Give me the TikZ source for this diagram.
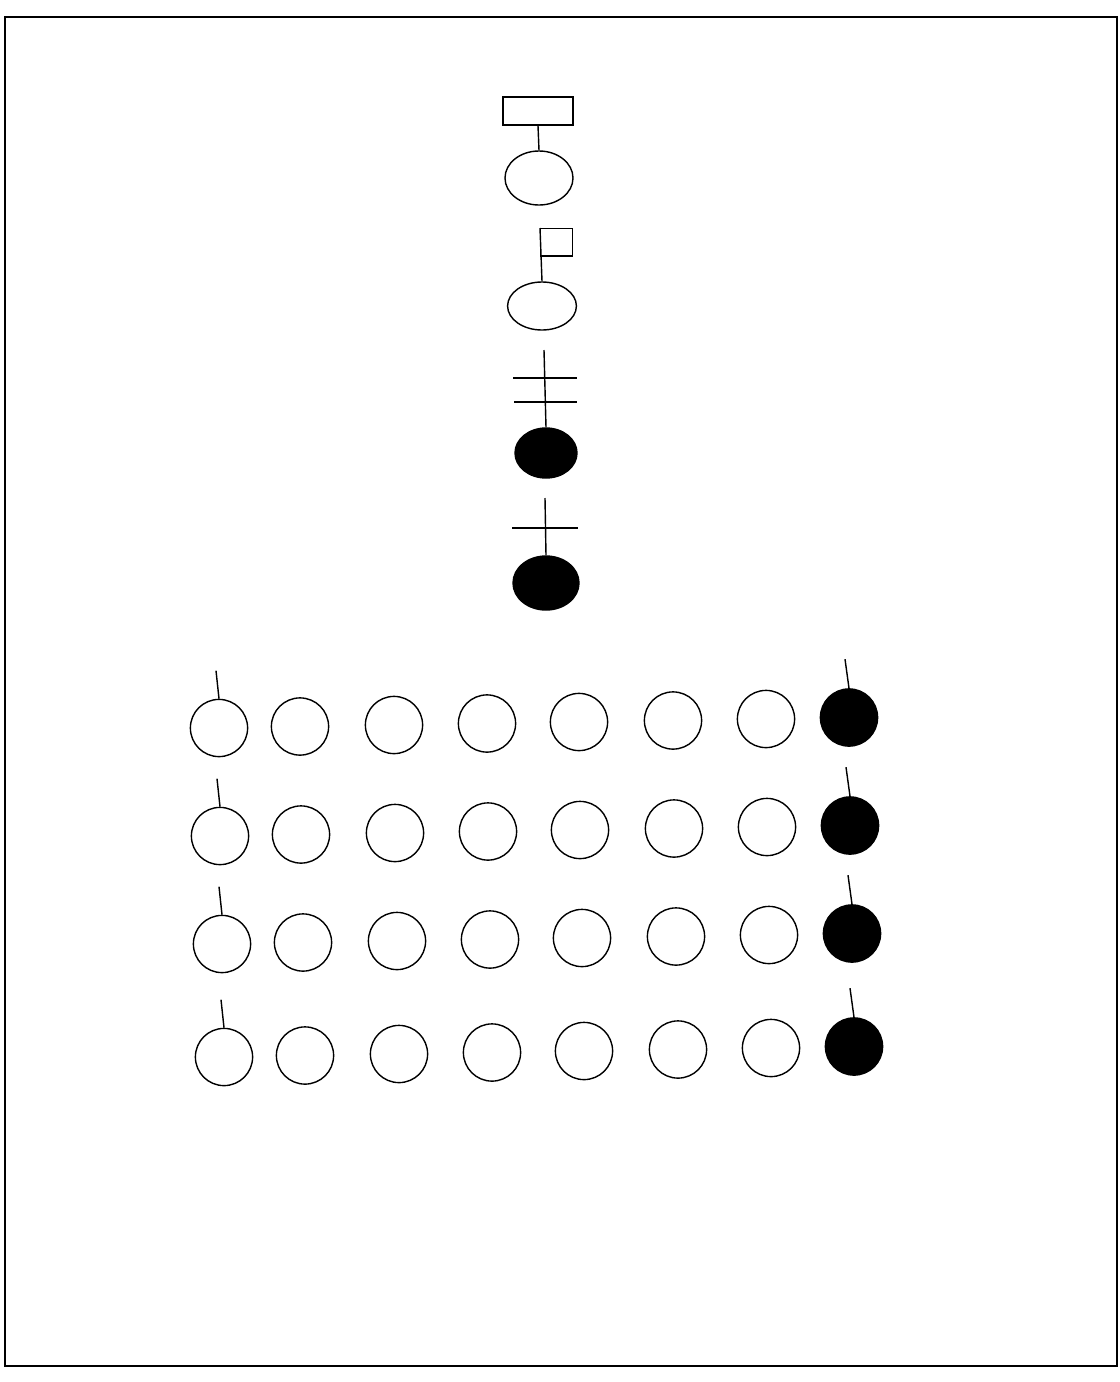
\documentclass[tikz,border=0pt]{standalone}
\usetikzlibrary{shapes.geometric}
\begin{document}
\begin{tikzpicture}[x=0.025cm, y=-0.025cm, line width=1pt,
  bead/.style={draw, circle, inner sep=0pt, minimum size=1.43cm},
  darkbead/.style={bead, fill=black},
  head/.style={draw, ellipse, inner sep=0pt},
  darkhead/.style={head, fill=black},
  tagbox/.style={draw, inner sep=0pt}
]
\useasboundingbox (0,0) rectangle (1119,1382);
\draw (5,17) rectangle (1117,1366);

% top column of symbols
\node[tagbox, minimum width=1.75cm, minimum height=0.7cm] (box) at (538,111) {};
\node[head, minimum width=1.7cm, minimum height=1.35cm] (h1) at (539,178) {};
\draw (box.south) -- (h1.north);

\node[tagbox, anchor=north west, minimum width=0.8cm, minimum height=0.68cm] (flag) at (540,228) {};
\node[head, minimum width=1.72cm, minimum height=1.2cm] (h2) at (542,306) {};
\draw (flag.north west) -- (h2.north);

\node[darkhead, minimum width=1.55cm, minimum height=1.25cm] (h3) at (546,453) {};
\coordinate (t3) at (544,350);
\coordinate (b3l) at (513,378); \coordinate (b3r) at (577,378);
\coordinate (c3l) at (514,402); \coordinate (c3r) at (577,402);
\draw (t3) -- (h3.north);
\draw (b3l) -- (b3r);
\draw (c3l) -- (c3r);

\node[darkhead, minimum width=1.65cm, minimum height=1.35cm] (h4) at (546,583) {};
\coordinate (t4) at (545,498);
\coordinate (b4l) at (512,528); \coordinate (b4r) at (578,528);
\draw (t4) -- (h4.north);
\draw (b4l) -- (b4r);

% grid of beads
\foreach \r/\ry/\rx in {1/728/0, 2/836/1, 3/944/3, 4/1057/5} {
  \foreach \c/\cx in {1/219, 2/300, 3/394, 4/487, 5/579, 6/673, 7/766}
    \node[bead] (b\r-\c) at ({\cx+\rx}, {\ry-1.5*(\c-1)}) {};
  \node[darkbead] (b\r-8) at ({849+\rx}, {\ry-10.5}) {};
  \path (b\r-1.north) ++(-3,-28) coordinate (s\r-1);
  \path (b\r-8.north) ++(-4,-29) coordinate (s\r-8);
  \draw (b\r-1.north) -- (s\r-1);
  \draw (b\r-8.north) -- (s\r-8);
}
\end{tikzpicture}
\end{document}
